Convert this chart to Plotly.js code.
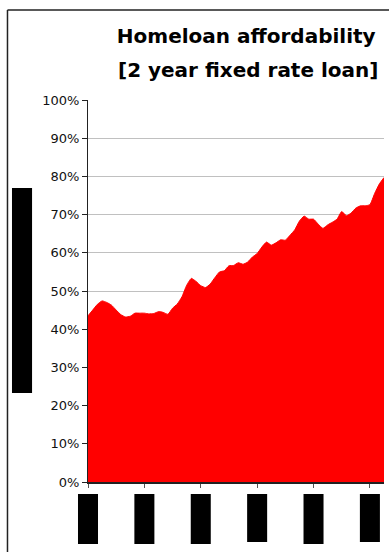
<!DOCTYPE html>
<html>
<head>
<meta charset="utf-8">
<script src="https://cdn.plot.ly/plotly-3.0.1.min.js"></script>
<style>html,body{margin:0;padding:0;background:#fff}#chart{width:389px;height:552px}</style>
</head>
<body>
<div id="chart"></div>
<script>
// Monthly affordability share (fraction of income)
const affordability = [
  0.435, 0.450, 0.465, 0.474, 0.470, 0.463, 0.450, 0.438, 0.432, 0.434,
  0.442, 0.442, 0.442, 0.440, 0.441, 0.446, 0.444, 0.439, 0.455, 0.466,
  0.485, 0.515, 0.533, 0.525, 0.514, 0.509, 0.518, 0.535, 0.550, 0.553,
  0.566, 0.567, 0.574, 0.570, 0.576, 0.589, 0.598, 0.615, 0.628, 0.620,
  0.626, 0.634, 0.633, 0.646, 0.660, 0.683, 0.696, 0.688, 0.688, 0.675,
  0.664, 0.673, 0.680, 0.688, 0.708, 0.697, 0.704, 0.717, 0.723, 0.723,
  0.726, 0.755, 0.780, 0.797
];
const monthIndex = affordability.map((v, i) => i);
const yTickVals = [0, 0.1, 0.2, 0.3, 0.4, 0.5, 0.6, 0.7, 0.8, 0.9, 1.0];
const yTickText = ["0%", "10%", "20%", "30%", "40%", "50%", "60%", "70%", "80%", "90%", "100%"];
const xTickVals = [0, 12, 24, 36, 48, 60];
const titleLine1 = "Homeloan affordability";
const titleLine2 = "[2 year fixed rate loan]";

const FONT = "DejaVu Sans, Liberation Sans, Arial, sans-serif";
const X_MAX = monthIndex.length - 1;

const trace = {
  x: monthIndex,
  y: affordability,
  type: "scatter",
  mode: "lines",
  fill: "tozeroy",
  fillcolor: "#ff0000",
  line: {color: "#ff0000", width: 1, shape: "spline", smoothing: 0.5},
  hoverinfo: "skip"
};

// redaction blocks under the x tick labels (paper refs so they are not clipped)
const blockBottoms = [-0.1623, -0.1623, -0.1623, -0.157, -0.1623, -0.157];
const halfW = 2.13 / X_MAX;
const shapes = xTickVals.map((t, k) => ({
  type: "rect", xref: "paper", yref: "paper",
  x0: t / X_MAX - halfW, x1: t / X_MAX + halfW, y0: -0.0314, y1: blockBottoms[k],
  fillcolor: "#000", line: {width: 0}
}));
// redaction block for the y-axis title
shapes.push({type: "rect", xref: "paper", yref: "paper",
  x0: -0.2568, x1: -0.189, y0: 0.233, y1: 0.7696,
  fillcolor: "#000", line: {width: 0}});
// chart-area border (top and left)
shapes.push({type: "line", xref: "paper", yref: "paper",
  x0: -0.2720, x1: 1.1, y0: 1.2356, y1: 1.2356,
  line: {color: "#222", width: 1.5}});
shapes.push({type: "line", xref: "paper", yref: "paper",
  x0: -0.2720, x1: -0.2720, y0: 1.2356, y1: -0.3,
  line: {color: "#222", width: 1.5}});

const layout = {
  width: 389, height: 552,
  margin: {l: 88, r: 5, t: 100, b: 70},
  paper_bgcolor: "#fff", plot_bgcolor: "#fff",
  showlegend: false,
  font: {family: FONT, color: "#111"},
  title: {
    text: "<b>" + titleLine1 + "</b>",
    font: {size: 20, color: "#000", family: FONT},
    x: 0.633, xref: "container", xanchor: "center",
    y: 0.935, yref: "container", yanchor: "middle"
  },
  annotations: [{
    text: "<b>" + titleLine2 + "</b>",
    xref: "paper", yref: "paper", x: 0.54, y: 1.0785,
    xanchor: "center", yanchor: "middle", showarrow: false,
    font: {size: 20, color: "#000", family: FONT}
  }],
  xaxis: {
    range: [0, X_MAX],
    tickvals: xTickVals,
    showticklabels: false,
    ticks: "outside", ticklen: 4, tickcolor: "#555", tickwidth: 1,
    showgrid: false, zeroline: false,
    showline: true, linecolor: "#222", linewidth: 1.5,
    fixedrange: true
  },
  yaxis: {
    range: [0, 1],
    tickvals: yTickVals, ticktext: yTickText,
    ticks: "outside", ticklen: 5, tickcolor: "#222", tickwidth: 1,
    tickfont: {size: 13, color: "#111", family: FONT},
    showgrid: true, gridcolor: "#c0c0c0", gridwidth: 1,
    zeroline: false,
    showline: true, linecolor: "#222", linewidth: 1,
    fixedrange: true
  },
  shapes: shapes
};

Plotly.newPlot("chart", [trace], layout, {displayModeBar: false, staticPlot: true});
</script>
</body>
</html>
